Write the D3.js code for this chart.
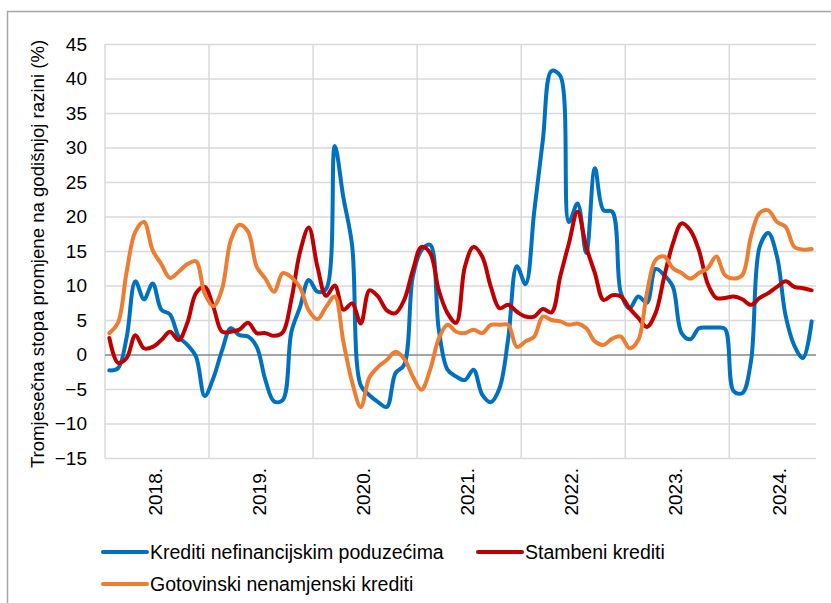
<!DOCTYPE html>
<html>
<head>
<meta charset="utf-8">
<script src="https://cdn.jsdelivr.net/npm/d3@7"></script>
<style>
  body { margin: 0; background: #fff; }
  text { font-family: "Liberation Sans", Arial, sans-serif; fill: #000; }
</style>
</head>
<body>
<svg id="chart" width="831" height="603"></svg>
<script>
// year labels on the category axis (data is monthly, Jan 2018 - Oct 2024)
var years = ["2018.", "2019.", "2020.", "2021.", "2022.", "2023.", "2024."];
var yTicks = [-15, -10, -5, 0, 5, 10, 15, 20, 25, 30, 35, 40, 45];

// Krediti nefinancijskim poduzecima
var corporate = [
  -2.3, -2.0, 2.5, 10.6, 8.0, 10.3, 6.5, 5.8, 2.6, 1.4, -0.3, -6.0,
  -3.4, 0.6, 3.8, 2.8, 2.6, 1.1, -3.7, -6.8, -6.6, 3.3, 6.9, 10.8,
  9.1, 9.5, 30.2, 22.7, 15.8, -4.5, -5.9, -6.9, -7.6, -2.7, -1.5, 11.3,
  15.1, 15.9, 3.6, -2.2, -3.2, -3.7, -2.2, -5.8, -6.9, -4.9, 2.3, 12.8,
  10.2, 20.7, 31.1, 41.1, 40.4, 19.2, 21.9, 14.7, 27.0, 20.9, 20.7, 8.9,
  6.7, 8.4, 7.5, 12.4, 11.5, 9.8, 3.1, 2.2, 3.8, 3.9, 3.9, 3.7,
  -5.3, -5.6, -1.0, 15.6, 17.6, 14.2, 5.6, 1.3, -0.5, 4.8
];
// Stambeni krediti
var housing = [
  2.4, -1.2, -0.5, 2.8, 0.9, 1.1, 2.1, 3.3, 2.1, 4.6, 8.9, 9.8,
  6.9, 3.3, 3.3, 3.6, 4.6, 3.1, 3.1, 2.7, 3.2, 8.0, 14.9, 18.4,
  12.7, 8.5, 10.0, 6.5, 7.4, 4.5, 9.3, 8.4, 6.4, 6.0, 7.9, 12.2,
  15.6, 14.7, 9.3, 6.0, 4.6, 12.7, 15.6, 14.2, 9.8, 6.7, 7.2, 6.2,
  5.5, 5.5, 6.6, 6.1, 11.3, 16.1, 20.7, 15.6, 11.8, 7.9, 8.6, 8.4,
  6.7, 5.3, 4.0, 6.0, 11.3, 16.1, 19.0, 18.0, 15.1, 10.3, 8.2, 8.2,
  8.4, 8.0, 7.2, 8.2, 8.9, 9.8, 10.6, 9.8, 9.6, 9.3
];
// Gotovinski nenamjenski krediti
var cash = [
  3.1, 4.6, 12.0, 17.8, 19.2, 15.1, 13.1, 11.1, 12.0, 13.1, 13.5, 8.8,
  7.0, 9.5, 16.5, 18.8, 17.8, 12.7, 11.0, 9.1, 11.8, 11.2, 9.7, 6.4,
  5.1, 6.9, 8.4, 1.8, -4.0, -7.6, -3.3, -1.8, -0.8, 0.4, -0.6, -3.2,
  -5.1, -2.2, 2.3, 4.3, 3.3, 3.1, 3.6, 3.1, 4.3, 4.3, 4.3, 1.1,
  1.9, 2.6, 5.5, 5.0, 4.8, 4.3, 4.5, 3.8, 1.9, 1.4, 2.3, 2.6,
  0.9, 2.1, 8.9, 13.7, 14.2, 12.5, 11.8, 11.0, 11.8, 12.5, 14.2, 11.5,
  11.0, 11.5, 17.1, 20.5, 20.9, 19.2, 18.5, 15.6, 15.2, 15.3
];

var seriesNames = ["Krediti nefinancijskim poduzećima", "Stambeni krediti", "Gotovinski nenamjenski krediti"];
var seriesColors = ["#0070c0", "#c00000", "#ed7d31"];
var yTitle = "Tromjesečna stopa promjene na godišnjoj razini  (%)";

var svg = d3.select("#chart");
var plotLeft = 105, plotRight = 816, plotTop = 44, plotBottom = 458;

// outer frame of the chart object
svg.append("rect")
  .attr("x", 7.5).attr("y", 11.5)
  .attr("width", 900).attr("height", 700)
  .attr("fill", "none").attr("stroke", "#a6a6a6").attr("stroke-width", 1.5);

var months = d3.range(corporate.length);
var x = d3.scaleBand().domain(months).range([plotLeft, plotRight]);
var y = d3.scaleLinear().domain([-15, 45]).range([plotBottom, plotTop]);
var mid = function(i) { return x(i) + x.bandwidth() / 2; };

// vertical gridlines at each year start
var yearStarts = years.map(function(d, k) { return k * 12; });
svg.append("g").selectAll("line")
  .data(yearStarts)
  .join("line")
  .attr("x1", function(i) { return x(i); })
  .attr("x2", function(i) { return x(i); })
  .attr("y1", plotTop).attr("y2", plotBottom)
  .attr("stroke", "#d9d9d9").attr("stroke-width", 1.5);

// horizontal gridlines + tick labels
var yAxis = svg.append("g")
  .attr("transform", "translate(" + plotLeft + ",0)")
  .call(d3.axisLeft(y).tickValues(yTicks).tickSize(-(plotRight - plotLeft)).tickPadding(18));
yAxis.select(".domain").remove();
yAxis.selectAll(".tick line")
  .attr("stroke", function(d) { return d === 0 ? "#868686" : "#d9d9d9"; })
  .attr("stroke-width", 1.5);
yAxis.selectAll(".tick text")
  .style("font-size", "19px")
  .style("font-family", "'Liberation Sans', Arial, sans-serif")
  .attr("fill", "#000");

// year labels (rotated)
svg.append("g").selectAll("text")
  .data(years)
  .join("text")
  .attr("transform", function(d, k) {
    return "translate(" + (x(k * 12 + 6) - 2) + "," + (plotBottom + 10) + ") rotate(-90)";
  })
  .attr("text-anchor", "end")
  .attr("dy", "0.35em")
  .style("font-size", "19px")
  .text(function(d) { return d; });

// y axis title
svg.append("text")
  .attr("transform", "translate(37," + ((plotTop + plotBottom) / 2 + 3) + ") rotate(-90)")
  .attr("text-anchor", "middle")
  .attr("dy", "0.35em")
  .style("font-size", "18.6px")
  .text(yTitle);

// smoothed lines
var line = d3.line()
  .x(function(d, i) { return mid(i); })
  .y(function(d) { return y(d); })
  .curve(d3.curveCatmullRom.alpha(0.5));

[corporate, housing, cash].forEach(function(s, k) {
  svg.append("path")
    .datum(s)
    .attr("d", line)
    .attr("fill", "none")
    .attr("stroke", seriesColors[k])
    .attr("stroke-width", 4)
    .attr("stroke-linejoin", "round")
    .attr("stroke-linecap", "round");
});

// legend
var legendPos = [[103, 552], [478, 552], [103, 584]];
var legend = svg.append("g").selectAll("g")
  .data(seriesNames)
  .join("g")
  .attr("transform", function(d, k) { return "translate(" + legendPos[k][0] + "," + legendPos[k][1] + ")"; });
legend.append("line")
  .attr("x1", 0).attr("x2", 44)
  .attr("stroke", function(d, k) { return seriesColors[k]; })
  .attr("stroke-width", 4)
  .attr("stroke-linecap", "round");
legend.append("text")
  .attr("x", 47)
  .attr("dy", "0.35em")
  .style("font-size", "19.5px")
  .text(function(d) { return d; });
</script>
</body>
</html>
